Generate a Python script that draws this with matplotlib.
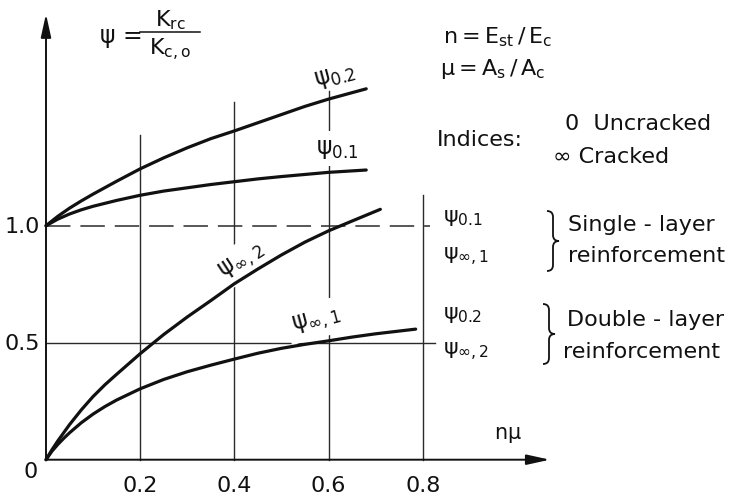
import matplotlib
matplotlib.use('Agg')
import matplotlib.pyplot as plt
from matplotlib.transforms import Affine2D
from matplotlib.path import Path
from matplotlib.patches import PathPatch

plt.rcParams['font.family'] = ['DejaVu Sans']
plt.rcParams['mathtext.fontset'] = 'dejavusans'
plt.rcParams['mathtext.default'] = 'regular'

# ---------------- data ----------------
nu_psi02 = [0, 0.025, 0.05, 0.075, 0.1, 0.15, 0.2, 0.25, 0.3, 0.35, 0.4, 0.45, 0.5, 0.55, 0.6, 0.68]
psi_02 = [1.0, 1.04, 1.075, 1.106, 1.135, 1.19, 1.243, 1.29, 1.333, 1.372, 1.405, 1.44, 1.475, 1.51, 1.541, 1.585]

nu_psi01 = [0, 0.025, 0.05, 0.075, 0.1, 0.15, 0.2, 0.25, 0.3, 0.35, 0.4, 0.45, 0.5, 0.55, 0.6, 0.68]
psi_01 = [1.0, 1.028, 1.05, 1.068, 1.083, 1.108, 1.13, 1.148, 1.162, 1.176, 1.188, 1.2, 1.21, 1.219, 1.228, 1.238]

nu_psiinf2 = [0, 0.0125, 0.025, 0.0375, 0.05, 0.075, 0.1, 0.125, 0.15, 0.2, 0.25, 0.3, 0.35, 0.4,
              0.45, 0.5, 0.55, 0.6, 0.65, 0.71]
psi_inf2 = [0, 0.042, 0.08, 0.115, 0.15, 0.213, 0.27, 0.32, 0.365, 0.453, 0.535, 0.61, 0.68, 0.752,
            0.815, 0.875, 0.93, 0.978, 1.02, 1.07]

nu_psiinf1 = [0, 0.0125, 0.025, 0.0375, 0.05, 0.075, 0.1, 0.125, 0.15, 0.2, 0.25, 0.3, 0.35, 0.4,
              0.45, 0.5, 0.55, 0.6, 0.65, 0.7, 0.785]
psi_inf1 = [0, 0.036, 0.065, 0.091, 0.115, 0.158, 0.195, 0.227, 0.255, 0.303, 0.343, 0.376, 0.404, 0.43,
            0.455, 0.476, 0.493, 0.508, 0.524, 0.538, 0.558]

x_ticks = [0.2, 0.4, 0.6, 0.8]
x_tick_labels = ['0.2', '0.4', '0.6', '0.8']
y_ticks = [0, 0.5, 1.0]
y_tick_labels = ['0', '0.5', '1.0']

# ---------------- layout ----------------
W, H = 741, 502
fig = plt.figure(figsize=(W / 100, H / 100), dpi=100)
ax = fig.add_axes([0, 0, 1, 1])
X0, SX = 46.0, 470.9
Y0, SY = 460.7, 234.0
ax.set_xlim(-X0 / SX, (W - X0) / SX)
ax.set_ylim(-(H - Y0) / SY, Y0 / SY)
ax.axis('off')
px = Affine2D().scale(1 / W, -1 / H).translate(0, 1) + fig.transFigure

ink = '#111111'
gridc = '#2a2a2a'
FS = 16

# vertical guide lines (heights as drawn in the figure)
grid_tops = [1.388, 1.527, 1.577, 1.13]
for gx, gt in zip(x_ticks, grid_tops):
    ax.plot([gx, gx], [0, gt], color=gridc, lw=1.0, zorder=1)

# horizontal reference lines
ax.plot([0, 0.815], [1.0, 1.0], color=gridc, lw=1.1, dashes=(16, 6.5), zorder=1)
ax.plot([0, 0.826], [0.5, 0.5], color=gridc, lw=1.0, zorder=1)

# axes with arrows
arrow = dict(arrowstyle='-|>,head_length=1.0,head_width=0.22', lw=1.4, color=ink,
             shrinkA=0, shrinkB=0, mutation_scale=14)
ax.annotate('', xy=(0, 1.905), xytext=(0, 0), arrowprops=arrow, zorder=2)
ax.annotate('', xy=(1.07, 0), xytext=(0, 0), arrowprops=arrow, zorder=2)

# curves
for xs, ys in [(nu_psi02, psi_02), (nu_psi01, psi_01), (nu_psiinf2, psi_inf2), (nu_psiinf1, psi_inf1)]:
    ax.plot(xs, ys, color=ink, lw=2.3, solid_capstyle='round', solid_joinstyle='round', zorder=4)

# tick labels
for v, lab in zip(x_ticks, x_tick_labels):
    ax.text(v, -0.11, lab, ha='center', va='center', fontsize=FS, color=ink)
for v, lab in zip(y_ticks, y_tick_labels):
    if v == 0:
        ax.text(-0.032, -0.05, lab, ha='center', va='center', fontsize=FS, color=ink)
    else:
        ax.text(-0.05, v, lab, ha='center', va='center', fontsize=FS, color=ink)

# curve labels
wb = dict(boxstyle='square,pad=0.25', fc='white', ec='none')
ax.text(0.614, 1.644, r'$ψ_{0.2}$', rotation=15, ha='center', va='center', fontsize=17, color=ink, zorder=3)
ax.text(0.618, 1.33, r'$ψ_{0.1}$', ha='center', va='center', fontsize=17, color=ink, zorder=3, bbox=wb)
ax.text(0.416, 0.849, r'$ψ_{∞,2}$', rotation=33, ha='center', va='center', fontsize=17, color=ink, zorder=3, bbox=wb)
ax.text(0.575, 0.597, r'$ψ_{∞,1}$', rotation=15, ha='center', va='center', fontsize=17, color=ink, zorder=3, bbox=wb)

# axis label
ax.text(508, 435, r'$n\mu$', transform=px, ha='center', va='center', fontsize=15, color=ink)

# formula psi = K_rc / K_c,o
ax.text(100, 36, 'ψ =', transform=px, ha='left', va='center', fontsize=17, color=ink)
ax.text(170, 20, r'$K_{rc}$', transform=px, ha='center', va='center', fontsize=16, color=ink)
ax.text(170, 50, r'$K_{c,o}$', transform=px, ha='center', va='center', fontsize=16, color=ink)
ax.plot([140, 200], [33, 33], transform=px, color=ink, lw=1.1)

# definitions
ax.text(443, 37, r'$n = E_{st}\,/\,E_c$', transform=px, ha='left', va='center', fontsize=16, color=ink)
ax.text(440, 69, r'$\mu = A_s\,/\,A_c$', transform=px, ha='left', va='center', fontsize=16, color=ink)

ax.text(437, 140, 'Indices:', transform=px, ha='left', va='center', fontsize=16, color=ink)
ax.text(565, 124, '0  Uncracked', transform=px, ha='left', va='center', fontsize=16, color=ink)
ax.text(553, 157, '∞ Cracked', transform=px, ha='left', va='center', fontsize=16, color=ink)

# right-hand legend block
ax.text(443, 218, r'$ψ_{0.1}$', transform=px, ha='left', va='center', fontsize=16, color=ink)
ax.text(443, 257, r'$ψ_{∞,1}$', transform=px, ha='left', va='center', fontsize=16, color=ink)
ax.text(443, 315, r'$ψ_{0.2}$', transform=px, ha='left', va='center', fontsize=16, color=ink)
ax.text(443, 352, r'$ψ_{∞,2}$', transform=px, ha='left', va='center', fontsize=16, color=ink)

ax.text(568, 225, 'Single - layer', transform=px, ha='left', va='center', fontsize=16, color=ink)
ax.text(568, 256, 'reinforcement', transform=px, ha='left', va='center', fontsize=16, color=ink)
ax.text(567, 320, 'Double - layer', transform=px, ha='left', va='center', fontsize=16, color=ink)
ax.text(563, 352, 'reinforcement', transform=px, ha='left', va='center', fontsize=16, color=ink)


def brace(x, y0, y1, w=12):
    ym = (y0 + y1) / 2
    h = w / 2
    verts = [(x, y0), (x + h, y0), (x + h, y0 + h),
             (x + h, ym - h),
             (x + h, ym), (x + w, ym),
             (x + h, ym), (x + h, ym + h),
             (x + h, y1 - h),
             (x + h, y1), (x, y1)]
    codes = [Path.MOVETO, Path.CURVE3, Path.CURVE3, Path.LINETO,
             Path.CURVE3, Path.CURVE3, Path.CURVE3, Path.CURVE3,
             Path.LINETO, Path.CURVE3, Path.CURVE3]
    ax.add_patch(PathPatch(Path(verts, codes), transform=px, fc='none', ec=ink, lw=1.3))


brace(547, 212, 272)
brace(543, 305, 365)

fig.savefig('out.png', dpi=100)
